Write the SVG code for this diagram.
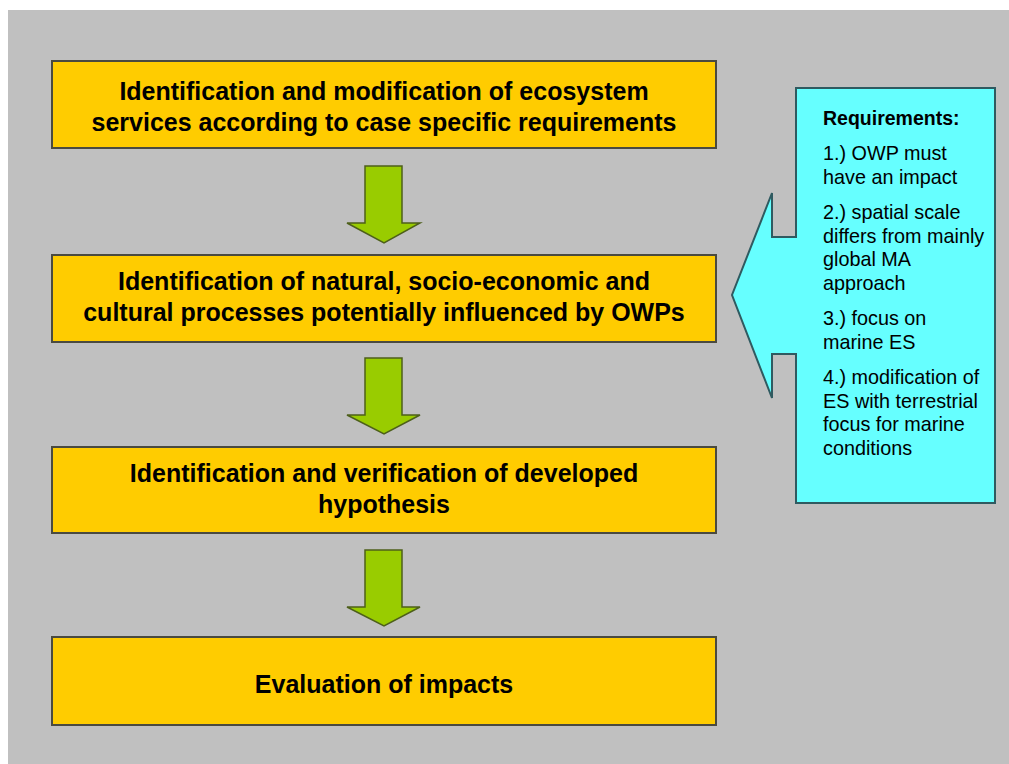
<svg xmlns="http://www.w3.org/2000/svg" width="1009" height="764" viewBox="0 0 1009 764">
<style>
.box{fill:#FFCC00;stroke:#4a4a40;stroke-width:2}
.bt{font-family:"Liberation Sans",Arial,sans-serif;font-weight:bold;font-size:25px;fill:#000;text-anchor:middle}
.arr{fill:#99CC00;stroke:#4d5f1a;stroke-width:1.5;stroke-linejoin:miter}
.call{fill:#66FFFF;stroke:#2f5a60;stroke-width:2}
.ct{font-family:"Liberation Sans",Arial,sans-serif;font-size:19.8px;fill:#000}
.ch{font-weight:bold;font-size:19.5px}
</style>
<rect x="0" y="0" width="1009" height="764" fill="#ffffff"/>
<rect x="8" y="10" width="1001" height="754" fill="#C0C0C0"/>
<g id="connectors">
<path class="arr" d="M365,166 L402,166 L402,223 L420,223 L384,243 L347,223 L365,223 Z"/>
<path class="arr" d="M365,358 L402,358 L402,415 L420,415 L384,434 L347,415 L365,415 Z"/>
<path class="arr" d="M365,550 L402,550 L402,607 L420,607 L384,626 L347,607 L365,607 Z"/>
</g>
<g id="node1">
<rect class="box" x="52" y="61" width="664" height="87"/>
<text class="bt" x="384" y="100">Identification and modification of ecosystem</text>
<text class="bt" x="384" y="131">services according to case specific requirements</text>
</g>
<g id="node2">
<rect class="box" x="52" y="255" width="664" height="87"/>
<text class="bt" x="384" y="290">Identification of natural, socio-economic and</text>
<text class="bt" x="384" y="321">cultural processes potentially influenced by OWPs</text>
</g>
<g id="node3">
<rect class="box" x="52" y="447" width="664" height="86"/>
<text class="bt" x="384" y="482">Identification and verification of developed</text>
<text class="bt" x="384" y="513">hypothesis</text>
</g>
<g id="node4">
<rect class="box" x="52" y="637" width="664" height="88"/>
<text class="bt" x="384" y="693">Evaluation of impacts</text>
</g>
<g id="requirements">
<path class="call" d="M796,88 L995,88 L995,503 L796,503 L796,354 L772,354 L772,398 L732,295 L772,193 L772,237 L796,237 Z"/>
<text class="ct ch" x="823" y="125">Requirements:</text>
<text class="ct" x="823" y="160">1.) OWP must</text>
<text class="ct" x="823" y="183.5">have an impact</text>
<text class="ct" x="823" y="219">2.) spatial scale</text>
<text class="ct" x="823" y="242.5">differs from mainly</text>
<text class="ct" x="823" y="266">global MA</text>
<text class="ct" x="823" y="289.5">approach</text>
<text class="ct" x="823" y="325">3.) focus on</text>
<text class="ct" x="823" y="348.5">marine ES</text>
<text class="ct" x="823" y="384">4.) modification of</text>
<text class="ct" x="823" y="407.5">ES with terrestrial</text>
<text class="ct" x="823" y="431">focus for marine</text>
<text class="ct" x="823" y="454.5">conditions</text>
</g>
</svg>
